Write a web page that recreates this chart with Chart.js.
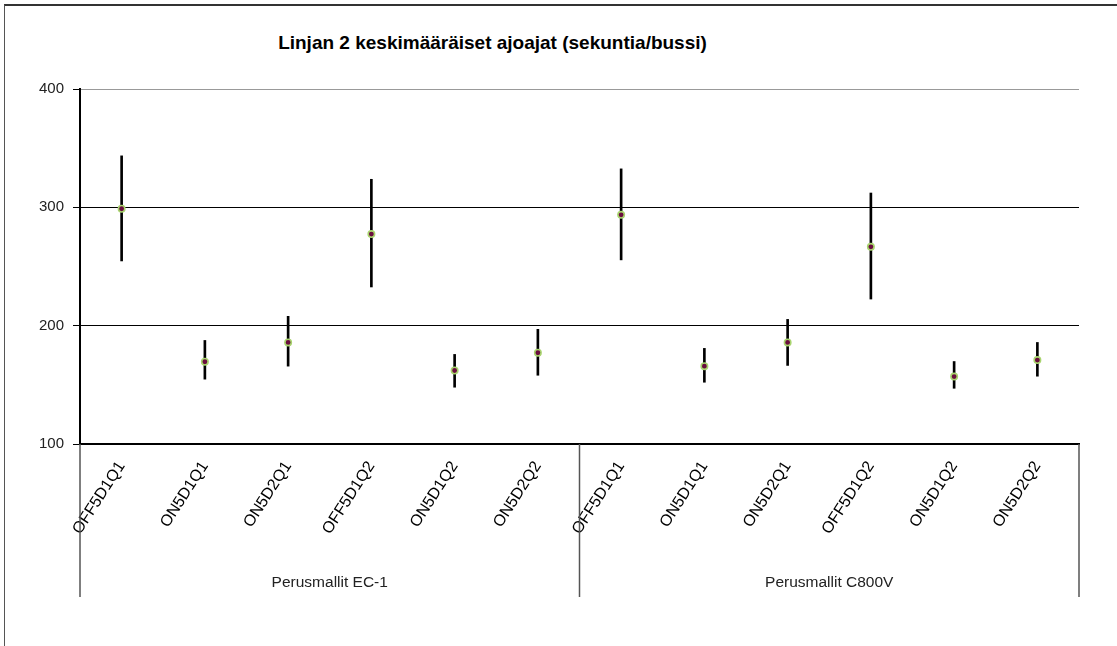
<!DOCTYPE html>
<html>
<head>
<meta charset="utf-8">
<script src="https://cdn.jsdelivr.net/npm/chart.js@4.4.1/dist/chart.umd.min.js"></script>
<style>
  body { margin: 0; background: #fff; }
  #wrap { position: relative; width: 1117px; height: 646px; overflow: hidden; }
  #frame { position: absolute; left: 4px; top: 4px; width: 1200px; height: 700px;
           border-left: 1px solid #555; border-top: 2px solid #333; }
  #title { position: absolute; left: 0; width: 985px; top: 32px; text-align: center; line-height: 1;
           font: bold 19px "Liberation Sans", Arial, sans-serif; color: #000; }
  canvas { position: absolute; left: 0; top: 0; }
</style>
</head>
<body>
<div id="wrap">
  <div id="frame"></div>
  <div id="title">Linjan 2 keskimääräiset ajoajat (sekuntia/bussi)</div>
  <canvas id="graf" width="1117" height="646"></canvas>
</div>
<script>
// kategoriat ja ryhmät
const labels = ["OFF5D1Q1", "ON5D1Q1", "ON5D2Q1", "OFF5D1Q2", "ON5D1Q2", "ON5D2Q2",
                "OFF5D1Q1", "ON5D1Q1", "ON5D2Q1", "OFF5D1Q2", "ON5D1Q2", "ON5D2Q2"];
const groups = ["Perusmallit EC-1", "Perusmallit C800V"];
const groupSize = [6, 6];

// keskiarvot ja virhepalkkien ala- ja yläraja
const means = [298.8, 169.5, 185.8, 277.4, 162.1, 177.1, 293.7, 165.8, 185.8, 266.6, 157.0, 170.9];
const lows  = [254.7, 154.8, 165.8, 232.7, 148.0, 158.1, 255.6, 152.2, 166.4, 222.5, 147.1, 157.3];
const highs = [343.5, 187.5, 207.9, 323.7, 175.7, 196.9, 332.5, 180.8, 205.3, 312.1, 169.7, 185.8];

const yTicks = [100, 200, 300, 400];

const ranges = lows.map((l, i) => [l, highs[i]]);   // kelluvat palkit = virhepalkit

// ryhmien nimet ja jakoviivat x-akselin alle
const groupPlugin = {
  id: "groups",
  afterDraw(chart) {
    const ctx = chart.ctx;
    const xs = chart.scales.x;
    const area = chart.chartArea;
    const half = (xs.getPixelForValue(1) - xs.getPixelForValue(0)) / 2;
    let start = 0;
    ctx.save();
    ctx.strokeStyle = "#555";
    ctx.lineWidth = 1.5;
    ctx.beginPath();
    ctx.moveTo(xs.getPixelForValue(0) - half, area.bottom);
    ctx.lineTo(xs.getPixelForValue(0) - half, 597);
    ctx.stroke();
    groups.forEach((g, k) => {
      const end = start + groupSize[k] - 1;
      const x0 = xs.getPixelForValue(start) - half;
      const x1 = xs.getPixelForValue(end) + half;
      ctx.beginPath();
      ctx.moveTo(x1, area.bottom);
      ctx.lineTo(x1, 597);
      ctx.stroke();
      ctx.fillStyle = "#222";
      ctx.font = '15.5px "Liberation Sans", Arial, sans-serif';
      ctx.textAlign = "center";
      ctx.textBaseline = "middle";
      ctx.fillText(g, (x0 + x1) / 2, 583);
      start = end + 1;
    });
    ctx.restore();
  }
};

new Chart("graf", {
  data: {
    labels: labels,
    datasets: [{
      type: "line",
      data: means,
      showLine: false,
      pointRadius: 3.2,
      pointBorderWidth: 1.6,
      pointBackgroundColor: "#6a0d3e",
      pointBorderColor: "#a9d46f",
      order: 0
    }, {
      type: "bar",
      data: ranges,
      backgroundColor: "#000",
      barThickness: 2,
      order: 1
    }]
  },
  options: {
    responsive: false,
    animation: false,
    layout: { padding: { left: 0, top: 89, right: 38, bottom: 0 } },
    plugins: { legend: { display: false }, tooltip: { enabled: false } },
    scales: {
      x: {
        type: "category",
        offset: true,
        grid: { display: false },
        border: { color: "#000", width: 2 },
        ticks: {
          color: "#000",
          font: { family: '"Liberation Sans", Arial, sans-serif', size: 16 },
          minRotation: 57,
          maxRotation: 57,
          autoSkip: false,
          padding: 6
        },
        afterFit(scale) { scale.height = 646 - 444; }
      },
      y: {
        min: 100,
        max: 400,
        afterBuildTicks(scale) { scale.ticks = yTicks.map(v => ({ value: v })); },
        grid: {
          color: c => (c.tick && c.tick.value === 400) ? "#999" : "#000",
          lineWidth: 1,
          tickLength: 7,
          tickColor: "#000"
        },
        border: { color: "#000", width: 2 },
        ticks: {
          color: "#222",
          font: { family: '"Liberation Sans", Arial, sans-serif', size: 15 },
          padding: 9
        },
        afterFit(scale) { scale.width = 80; }
      }
    }
  },
  plugins: [groupPlugin]
});
</script>
</body>
</html>
